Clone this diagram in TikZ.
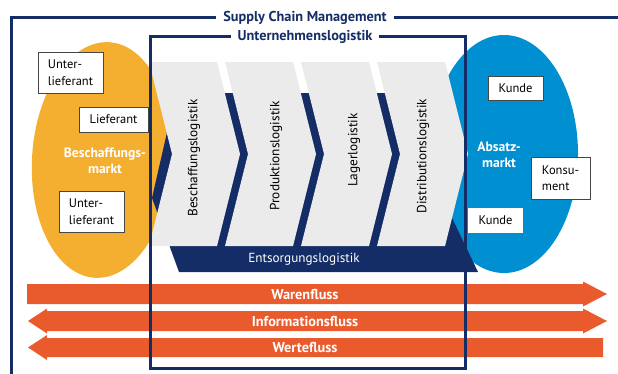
\documentclass[tikz,border=0pt]{standalone}
\usepackage{fontspec}
\setmainfont{PT Sans}
\usetikzlibrary{positioning}
\definecolor{navy}{RGB}{20,45,102}
\definecolor{amber}{RGB}{244,175,48}
\definecolor{sky}{RGB}{0,143,208}
\definecolor{chevgray}{RGB}{235,235,235}
\definecolor{flowred}{RGB}{233,91,44}
\definecolor{boxline}{RGB}{70,70,70}

\begin{document}
\begin{tikzpicture}[x=1pt, y=-1pt,
  frame/.style={draw=navy, line width=3pt},
  title/.style={fill=white, text=navy, inner xsep=7pt, inner ysep=1pt,
    font=\bfseries\fontsize{14.3}{16}\selectfont},
  box/.style={draw=boxline, line width=0.9pt, fill=white, align=left, inner sep=0pt,
    font=\fontsize{12.5}{16.5}\selectfont},
  chev/.style={fill=chevgray},
  chevtext/.style={rotate=90, font=\fontsize{13.3}{15}\selectfont},
  mkt/.style={text=white, align=center, font=\bfseries\fontsize{13.6}{16.5}\selectfont},
  flow/.style={fill=flowred},
  flowtext/.style={text=white, font=\bfseries\fontsize{14.3}{16}\selectfont}]
  \useasboundingbox (0,0) rectangle (618,373);

  \fill[amber, rotate around={-3.5:(102,160)}] (102,160) ellipse [x radius=70pt, y radius=118pt];
  \fill[sky] (504,154) ellipse [x radius=74pt, y radius=119pt];

  \fill[navy] (176,93) -- (392,93) -- (478,272) -- (179,272) -- (152,198) -- cycle;
  \fill[chev] (149,62) -- (217,62) -- (240,154) -- (217,246) -- (149,246) -- (172,154) -- cycle;
  \fill[chev] (225,62) -- (293,62) -- (316,154) -- (293,246) -- (225,246) -- (248,154) -- cycle;
  \fill[chev] (301,62) -- (369,62) -- (392,154) -- (369,246) -- (301,246) -- (324,154) -- cycle;
  \fill[chev] (377,62) -- (445,62) -- (468,154) -- (445,246) -- (377,246) -- (400,154) -- cycle;
  \node[chevtext] (besch) at (194,158) {Beschaffungslogistik};
  \node[chevtext] (prod)  at (276,156) {Produktionslogistik};
  \node[chevtext] (lager) at (354,150) {Lagerlogistik};
  \node[chevtext] (dist)  at (423,156) {Distributionslogistik};
  \node[text=white, font=\fontsize{13.2}{15}\selectfont] (entsorg) at (304,259) {Entsorgungslogistik};

  \fill[flow] (27,284) -- (583,284) -- (583,281.5) -- (607,294) -- (583,306.5) -- (583,304) -- (27,304) -- cycle;
  \fill[flow] (28,321) -- (47,308.5) -- (47,311) -- (583,311) -- (583,308.5) -- (607,321)
    -- (583,333.5) -- (583,331) -- (47,331) -- (47,333.5) -- cycle;
  \fill[flow] (28,347.5) -- (47,335) -- (47,338) -- (603,338) -- (603,357) -- (47,357) -- (47,360) -- cycle;
  \node[flowtext] (waren) at (305,294) {Warenfluss};
  \node[flowtext] (info)  at (305,321) {Informationsfluss};
  \node[flowtext] (werte) at (305,347.5) {Wertefluss};

  \draw[frame] (11,380) -- (11,17.5) -- (625,17.5);
  \node[title] (scm) at (305,17.5) {Supply Chain Management};
  \draw[frame] (150,36.5) rectangle (465,368.5);
  \node[title] (ul) at (305,36.5) {Unternehmenslogistik};

  \node[mkt] (bmarkt) at (105,161) {Beschaffungs-\\markt};
  \node[mkt] (amarkt) at (499,155) {Absatz-\\markt};

  \node[box, minimum width=65pt, minimum height=41pt] (ulief1) at (70.5,72.5) {Unter-\\lieferant};
  \node[box, minimum width=69pt, minimum height=25pt] (lief) at (113.5,119.5) {Lieferant};
  \node[box, minimum width=65pt, minimum height=41pt] (ulief2) at (91.5,211.5) {Unter-\\lieferant};
  \node[box, minimum width=55pt, minimum height=24pt] (kunde1) at (515.5,88) {Kunde};
  \node[box, minimum width=59pt, minimum height=42pt] (kons) at (560.5,178) {Konsu-\\ment};
  \node[box, draw=none, minimum width=55pt, minimum height=25pt] (kunde2) at (495.5,220.5) {Kunde};
\end{tikzpicture}
\end{document}
